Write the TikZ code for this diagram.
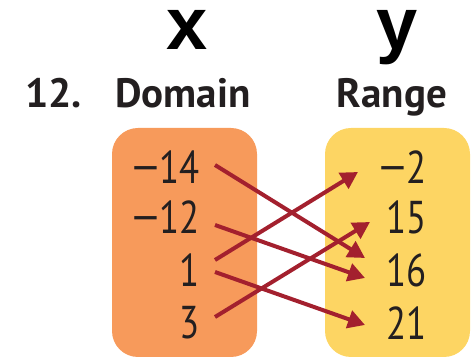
\documentclass[tikz,border=0pt]{standalone}
\usepackage{fontspec}
\setsansfont{PT Sans}
\newfontfamily\numfont[FakeStretch=0.8]{PT Sans}
\newfontfamily\headfont{Liberation Sans}
\newcommand{\minussign}{{\headfont −}}
\usetikzlibrary{arrows.meta}
\definecolor{domfill}{HTML}{F79A5B}
\definecolor{rngfill}{HTML}{FDD563}
\definecolor{maparrow}{HTML}{A3202E}
\definecolor{inkcolor}{HTML}{231F20}

\begin{document}
\begin{tikzpicture}[
    x=1pt, y=-1pt,
    every node/.style={font=\sffamily, text=inkcolor, inner sep=0pt},
    set/.style={
        rectangle, rounded corners=26pt, minimum width=145pt,
        minimum height=229pt,
    },
    num/.style={anchor=east, font=\numfont\fontsize{46}{46}\selectfont},
    head/.style={anchor=base, text=black, text height=40pt, text depth=14pt,
        font=\headfont\bfseries\fontsize{74}{60}\selectfont},
    lab/.style={anchor=base, font=\sffamily\bfseries\fontsize{41}{41}\selectfont},
    arr/.style={-{Triangle[length=17pt, width=18pt]}, line width=4pt, color=maparrow},
]
\useasboundingbox (0,0) rectangle (472,358);

% ================================================ headings
\node[head] (xhead) at (187, 50) {x};
\node[head] (yhead) at (397, 50) {y};
\node[lab, anchor=base west] (num) at (25, 108) {12.};
\node[lab] (domlab) at (183, 108) {Domain};
\node[lab] (rnglab) at (392, 108) {Range};

% ================================================ the two sets
\node[set, fill=domfill] (dombox) at (184.5, 242.5) {};
\node[set, fill=rngfill] (rngbox) at (397.5, 242.5) {};

\node[num] (m14) at (200, 167) {\minussign14};
\node[num] (m12) at (200, 217) {\minussign12};
\node[num] (p1)  at (200, 270) {1};
\node[num] (p3)  at (200, 323) {3};

\node[num] (rm2) at (427, 167) {\minussign2};
\node[num] (r15) at (427, 217) {15};
\node[num] (r16) at (427, 270) {16};
\node[num] (r21) at (427, 323) {21};

% ================================================ the mapping
\draw[arr] ([xshift=15pt, yshift=2pt]m14.east) -- ([xshift=-62pt, yshift=12pt]r16.east);
\draw[arr] ([xshift=15pt, yshift=-8pt]m12.east) -- ([xshift=-62pt, yshift=-8pt]r16.east);
\draw[arr] ([xshift=15pt, yshift=10pt]p1.east) -- ([xshift=-69pt, yshift=-5pt]rm2.east);
\draw[arr] ([xshift=15pt, yshift=-2pt]p1.east) -- ([xshift=-62pt, yshift=-2pt]r21.east);
\draw[arr] ([xshift=15pt, yshift=6pt]p3.east) -- ([xshift=-57pt, yshift=-5pt]r15.east);

\end{tikzpicture}
\end{document}
